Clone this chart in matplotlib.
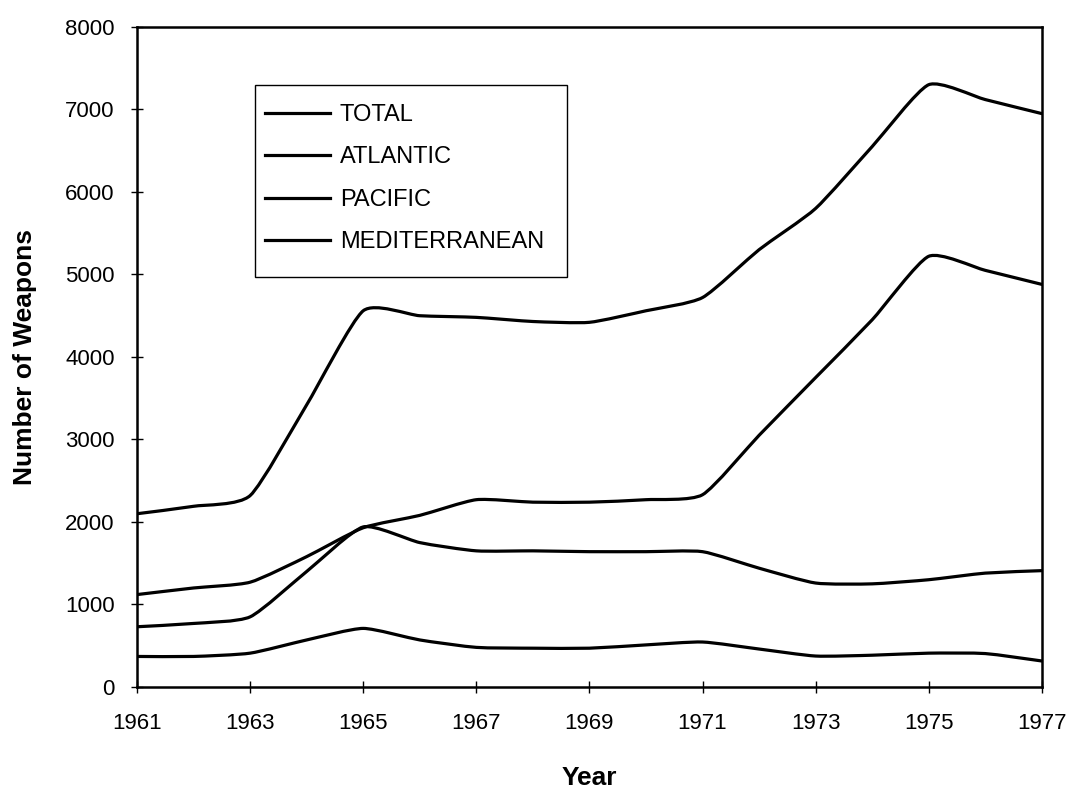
import numpy as np
import matplotlib.pyplot as plt
from matplotlib.path import Path
from matplotlib.patches import PathPatch, Rectangle
from matplotlib.lines import Line2D

plt.rcParams['font.family'] = ['Liberation Sans', 'DejaVu Sans']

# --- datos ---
years = list(range(1961, 1978))
total = [2100, 2190, 2320, 3420, 4560, 4500, 4480, 4430, 4420, 4560, 4720,
         5300, 5800, 6550, 7300, 7120, 6950]
atlantic = [1120, 1200, 1270, 1580, 1930, 2080, 2270, 2240, 2240, 2270, 2330,
            3050, 3750, 4450, 5220, 5050, 4880]
pacific = [730, 770, 850, 1400, 1940, 1750, 1650, 1650, 1640, 1640, 1640,
           1440, 1260, 1250, 1300, 1380, 1410]
mediterranean = [370, 370, 410, 570, 710, 570, 480, 470, 470, 510, 545,
                 460, 375, 385, 410, 405, 315]

series = [("TOTAL", total), ("ATLANTIC", atlantic),
          ("PACIFIC", pacific), ("MEDITERRANEAN", mediterranean)]

SMOOTH = 0.1  # suavizado leve, casi poligonal


def smooth_path(x, y, k=SMOOTH):
    """Curva por los puntos con esquinas redondeadas (Bezier cubica)."""
    pts = np.column_stack([x, y]).astype(float)
    n = len(pts)
    verts = [pts[0]]
    codes = [Path.MOVETO]
    for i in range(n - 1):
        p0 = pts[i - 1] if i > 0 else pts[i]
        p1 = pts[i]
        p2 = pts[i + 1]
        p3 = pts[i + 2] if i + 2 < n else pts[i + 1]
        c1 = p1 + (p2 - p0) * k
        c2 = p2 - (p3 - p1) * k
        verts += [c1, c2, p2]
        codes += [Path.CURVE4] * 3
    return Path(verts, codes)


fig = plt.figure(figsize=(10.74, 7.93), dpi=100)
ax = fig.add_axes([0.1276, 0.1337, 0.8424, 0.8323])

handles = []
for name, vals in series:
    patch = PathPatch(smooth_path(years, vals), fill=False, edgecolor='black',
                      linewidth=2.3, capstyle='round', joinstyle='round')
    ax.add_patch(patch)
    handles.append(Line2D([], [], color='black', linewidth=2.3, label=name))

ax.set_xlim(1961, 1977)
ax.set_ylim(0, 8000)
ax.set_xticks(range(1961, 1978, 2))
ax.set_yticks(range(0, 8001, 1000))

for s in ax.spines.values():
    s.set_linewidth(1.8)
    s.set_color('black')

ax.tick_params(axis='x', direction='inout', length=8, width=1, pad=15, labelsize=16)
ax.tick_params(axis='y', direction='inout', length=8, width=1, pad=12, labelsize=16)

ax.set_xlabel("Year", fontsize=19, fontweight='bold', labelpad=23)
ax.set_ylabel("Number of Weapons", fontsize=19, fontweight='bold', labelpad=20)

# leyenda sin marco + caja propia (mas alta que ancha de margen)
leg = ax.legend(handles=handles, loc='upper left', bbox_to_anchor=(0.1414, 0.883),
                borderaxespad=0, frameon=False, fontsize=17,
                handlelength=2.75, handletextpad=0.42, labelspacing=0.86,
                borderpad=0)
ax.add_patch(Rectangle((0.1304, 0.6212), 0.3448, 0.2909, transform=ax.transAxes,
                       fill=False, edgecolor='black', linewidth=1.0, zorder=5))

fig.savefig("out.png", dpi=100)
